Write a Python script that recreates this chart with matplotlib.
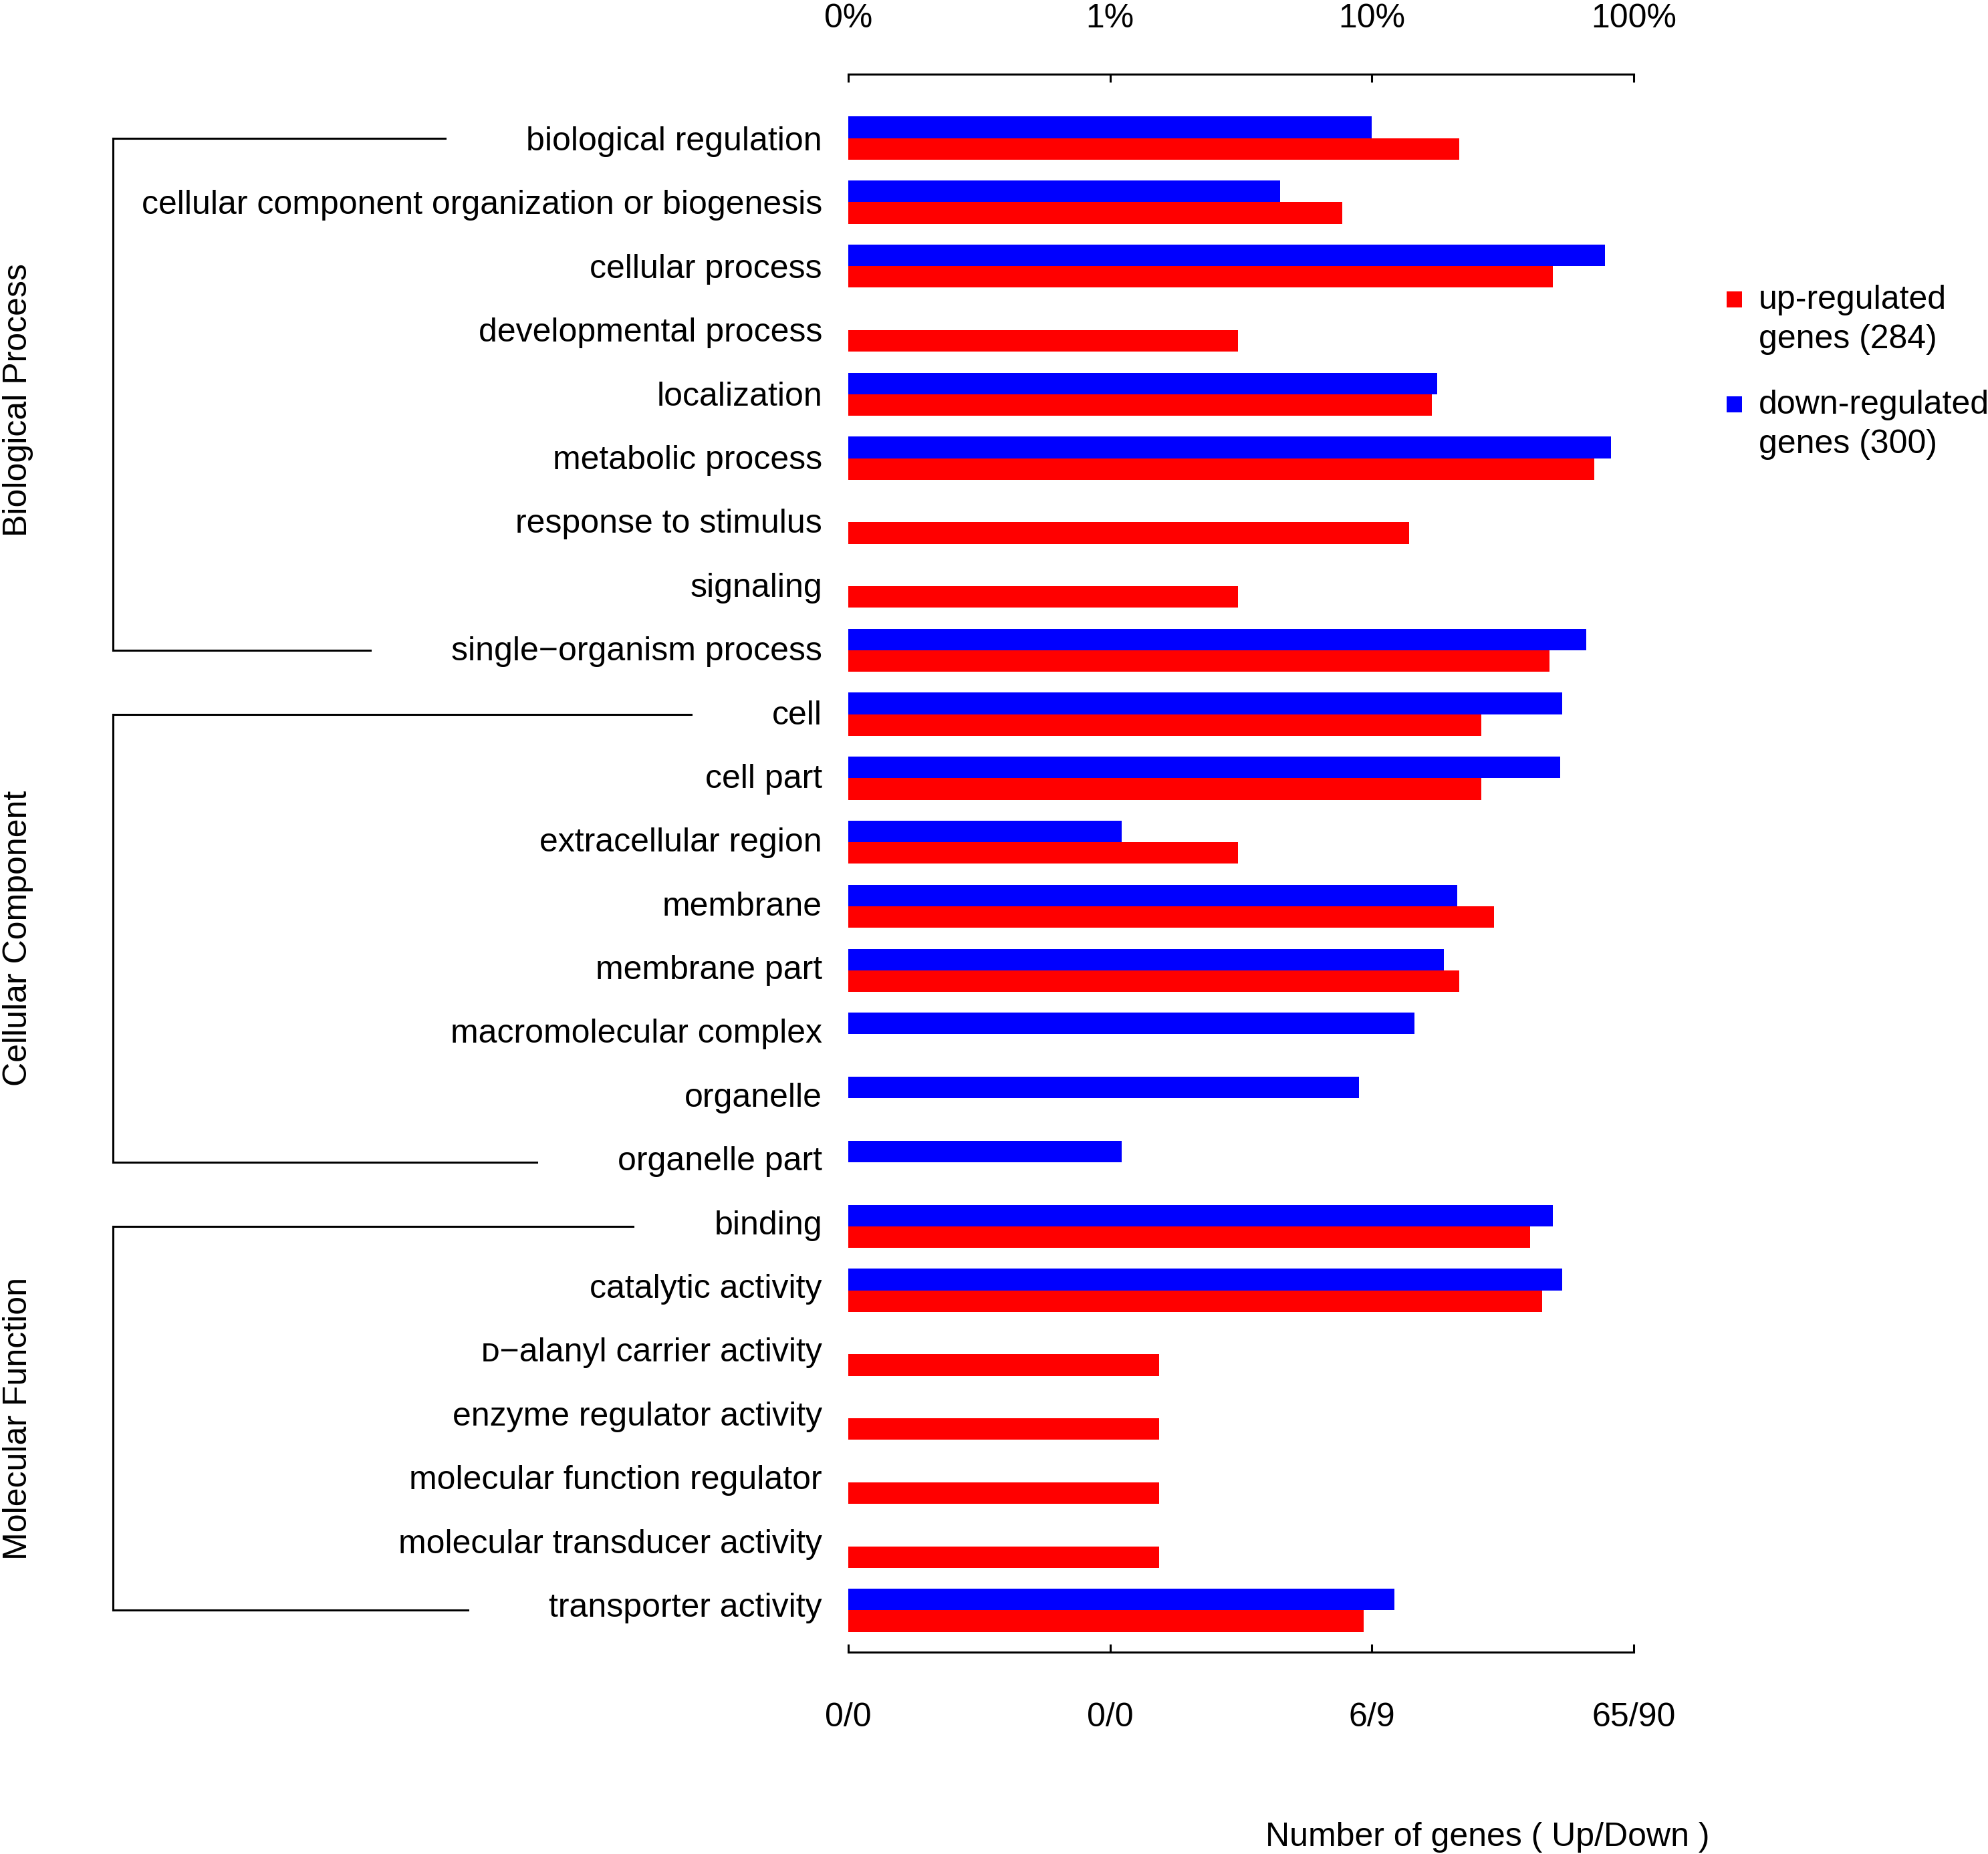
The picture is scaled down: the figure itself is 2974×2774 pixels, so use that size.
import matplotlib
matplotlib.use("Agg")
import matplotlib.pyplot as plt
from matplotlib.patches import Rectangle
from matplotlib.lines import Line2D
from matplotlib.ticker import NullLocator, FixedLocator
import matplotlib.transforms as mtransforms

# ---------------- data ----------------
categories = [
    "biological regulation",
    "cellular component organization or biogenesis",
    "cellular process",
    "developmental process",
    "localization",
    "metabolic process",
    "response to stimulus",
    "signaling",
    "single\u2212organism process",
    "cell",
    "cell part",
    "extracellular region",
    "membrane",
    "membrane part",
    "macromolecular complex",
    "organelle",
    "organelle part",
    "binding",
    "catalytic activity",
    "\u1d05\u2212alanyl carrier activity",
    "enzyme regulator activity",
    "molecular function regulator",
    "molecular transducer activity",
    "transporter activity",
]
# percent of genes (None = no genes)
up_pct = [21.6, 7.72, 49.2, 3.08, 16.9, 70.7, 13.9, 3.08, 47.7,
          26.2, 26.2, 3.08, 29.3, 21.6, None, None, None,
          40.1, 44.8, 1.54, 1.54, 1.54, 1.54, 9.28]
down_pct = [10.0, 4.45, 77.7, None, 17.8, 81.9, None, None, 65.7,
            53.3, 52.4, 1.11, 21.2, 18.8, 14.5, 8.9, 1.11,
            49.0, 53.3, None, None, None, None, 12.2]
groups = ["Biological Process", "Cellular Component", "Molecular Function"]
group_sizes = [9, 8, 7]
tick_values = [0.1, 1, 10, 100]
top_tick_labels = ["0%", "1%", "10%", "100%"]
bottom_tick_labels = ["0/0", "0/0", "6/9", "65/90"]
legend_labels = ["up-regulated\ngenes (284)", "down-regulated\ngenes (300)"]
colors = ["#FF0000", "#0000FF"]
xlabel = "Number of genes ( Up/Down )"

# ---------------- layout ----------------
W, H = 2974, 2774
DPI = 100
FS = 36
LW = 2.2
plt.rcParams["font.family"] = ["Liberation Sans", "DejaVu Sans"]

fig = plt.figure(figsize=(W / DPI, H / DPI), dpi=DPI)


def fx(px):
    return px / W


def fy(py):
    return 1 - py / H


ax_l, ax_r, ax_t, ax_b = 1269, 2444, 110.7, 2472
ax = fig.add_axes([fx(ax_l), fy(ax_b), (ax_r - ax_l) / W, (ax_b - ax_t) / H])

step = 95.77         # pixels per category
c0 = 206.7           # pixel y of first category centre
y_top = (ax_t - c0) / step
y_bot = (ax_b - c0) / step
bh = 32.2 / step
lab_step = 95.39     # label spacing in pixels
lab0 = 207.0

n = len(categories)
for i in range(n):
    if down_pct[i] is not None:
        ax.barh(i - bh / 2, down_pct[i] - 0.1, left=0.1, height=bh,
                color=colors[1], linewidth=0)
    if up_pct[i] is not None:
        ax.barh(i + bh / 2, up_pct[i] - 0.1, left=0.1, height=bh,
                color=colors[0], linewidth=0)

ax.set_xscale("log")
ax.set_xlim(0.1, 100)
ax.set_ylim(y_bot, y_top)
ax.xaxis.set_major_locator(FixedLocator(tick_values))
ax.xaxis.set_minor_locator(NullLocator())
ax.set_xticklabels(bottom_tick_labels, fontsize=FS)
ax.tick_params(axis="x", direction="in", length=12 * 72 / DPI, width=LW,
               pad=54, top=False)
ax.set_yticks([(lab0 + lab_step * i - c0) / step for i in range(n)])
ax.set_yticklabels(categories, fontsize=FS)
ax.tick_params(axis="y", length=0, pad=39 * 72 / DPI)
for s in ["left", "right", "top"]:
    ax.spines[s].set_visible(False)
ax.spines["bottom"].set_linewidth(LW)
ax.patch.set_visible(False)
ax.get_yticklabels()[19].set_family(["Liberation Sans", "DejaVu Serif", "DejaVu Sans"])

ax2 = ax.twiny()
ax2.set_xscale("log")
ax2.set_xlim(0.1, 100)
ax2.xaxis.set_major_locator(FixedLocator(tick_values))
ax2.xaxis.set_minor_locator(NullLocator())
ax2.set_xticklabels(top_tick_labels, fontsize=FS)
ax2.tick_params(axis="x", direction="in", length=12 * 72 / DPI, width=LW,
                pad=43)
for s in ["left", "right", "bottom"]:
    ax2.spines[s].set_visible(False)
ax2.spines["top"].set_linewidth(LW)

# x label
fig.text(fx(2225), fy(2762), xlabel, fontsize=FS, ha="center", va="baseline")

# legend
sq = 23
leg_rows = [(448, 462), (605, 619)]
for (cy, base), lab, col in zip(leg_rows, legend_labels, colors):
    fig.add_artist(Rectangle((fx(2594 - sq / 2), fy(cy + sq / 2)), sq / W, sq / H,
                             transform=fig.transFigure, color=col, linewidth=0))
    for k, line in enumerate(lab.split("\n")):
        fig.text(fx(2631), fy(base + 59 * k), line, fontsize=FS,
                 ha="left", va="baseline")

# brackets and group labels
fig.canvas.draw()
renderer = fig.canvas.get_renderer()
tlabels = ax.get_yticklabels()
blend = mtransforms.blended_transform_factory(fig.transFigure, ax.transData)
bx = fx(168.5)
group_label_shift = [9 / step, 0, 0]
start = 0
for g, size, sh in zip(groups, group_sizes, group_label_shift):
    first, last = start, start + size - 1
    for idx in (first, last):
        x0 = tlabels[idx].get_window_extent(renderer).x0
        ax.add_artist(Line2D([bx, (x0 - 121) / W], [idx, idx], transform=blend,
                             color="black", linewidth=LW, clip_on=False))
    ax.add_artist(Line2D([bx, bx], [first, last], transform=blend,
                         color="black", linewidth=LW, clip_on=False))
    ax.text(fx(27), (first + last) / 2 + sh, g, transform=blend, rotation=90,
            ha="center", va="center", fontsize=FS, clip_on=False)
    start += size

fig.savefig("out.png", dpi=DPI)
